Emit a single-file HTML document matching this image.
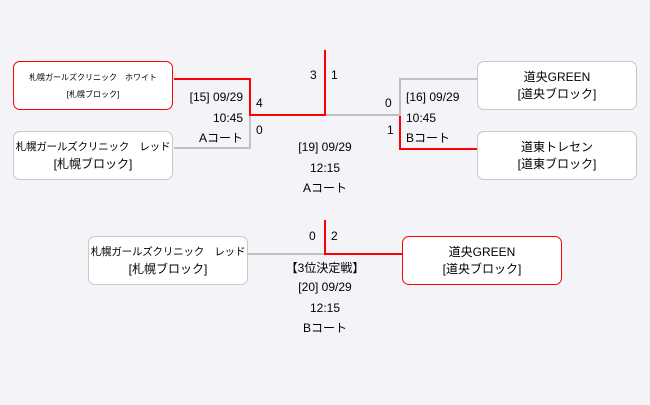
<!DOCTYPE html>
<html><head><meta charset="utf-8"><style>
body{margin:0;width:650px;height:405px;background:#f4f3f7;position:relative;overflow:hidden;font-family:"Liberation Sans","Noto Sans CJK JP",sans-serif;font-size:12px;color:#000}
.b{position:absolute;width:158px;height:47px;background:#fff;border:1px solid #c8c8c8;border-radius:7px;display:flex;flex-direction:column;justify-content:center;align-items:center;text-align:center;line-height:17px;white-space:nowrap}
.r{border-color:#f00}
.n{font-size:10.5px;letter-spacing:-0.2px}
.t{position:absolute;white-space:nowrap;line-height:14px}
.c{transform:translateX(-50%)}
</style></head><body>
<svg width="650" height="405" style="position:absolute;left:0;top:0">
<g fill="none" stroke-width="2">
<polyline points="250,84 250,148 174,148" stroke="#c0c0c0"/>
<polyline points="325,115 400,115 400,79 478,79" stroke="#c0c0c0"/>
<polyline points="174,79 250,79 250,115 325,115 325,50" stroke="#f00"/>
<polyline points="400,116 400,149 477,149" stroke="#f00"/>
<polyline points="248,254 325,254" stroke="#c0c0c0"/>
<polyline points="325,220 325,254 402,254" stroke="#f00"/>
</g></svg>
<div class="b r" style="left:13px;top:61px;font-size:8px;line-height:17px"><div>札幌ガールズクリニック　ホワイト</div><div>[札幌ブロック]</div></div>
<div class="b" style="left:13px;top:131px"><div class="n">札幌ガールズクリニック　レッド</div><div>[札幌ブロック]</div></div>
<div class="b" style="left:477px;top:61px"><div>道央GREEN</div><div>[道央ブロック]</div></div>
<div class="b" style="left:477px;top:131px"><div>道東トレセン</div><div>[道東ブロック]</div></div>
<div class="b" style="left:88px;top:236px"><div class="n">札幌ガールズクリニック　レッド</div><div>[札幌ブロック]</div></div>
<div class="b r" style="left:402px;top:236px"><div>道央GREEN</div><div>[道央ブロック]</div></div>
<div class="t" style="left:310px;top:68px">3</div><div class="t" style="left:331px;top:68px">1</div>
<div class="t" style="left:256px;top:96px">4</div><div class="t" style="left:256px;top:123px">0</div>
<div class="t" style="left:385px;top:96px">0</div><div class="t" style="left:387px;top:123px">1</div>
<div class="t" style="right:407px;top:90px;text-align:right">[15] 09/29</div>
<div class="t" style="right:407px;top:111px">10:45</div>
<div class="t" style="right:407px;top:131px">Aコート</div>
<div class="t" style="left:406px;top:90px">[16] 09/29</div>
<div class="t" style="left:406px;top:111px">10:45</div>
<div class="t" style="left:406px;top:131px">Bコート</div>
<div class="t c" style="left:325px;top:140px">[19] 09/29</div>
<div class="t c" style="left:325px;top:161px">12:15</div>
<div class="t c" style="left:325px;top:181px">Aコート</div>
<div class="t" style="left:309px;top:229px">0</div><div class="t" style="left:331px;top:229px">2</div>
<div class="t c" style="left:325px;top:261px">【3位決定戦】</div>
<div class="t c" style="left:325px;top:280px">[20] 09/29</div>
<div class="t c" style="left:325px;top:301px">12:15</div>
<div class="t c" style="left:325px;top:321px">Bコート</div>
</body></html>
